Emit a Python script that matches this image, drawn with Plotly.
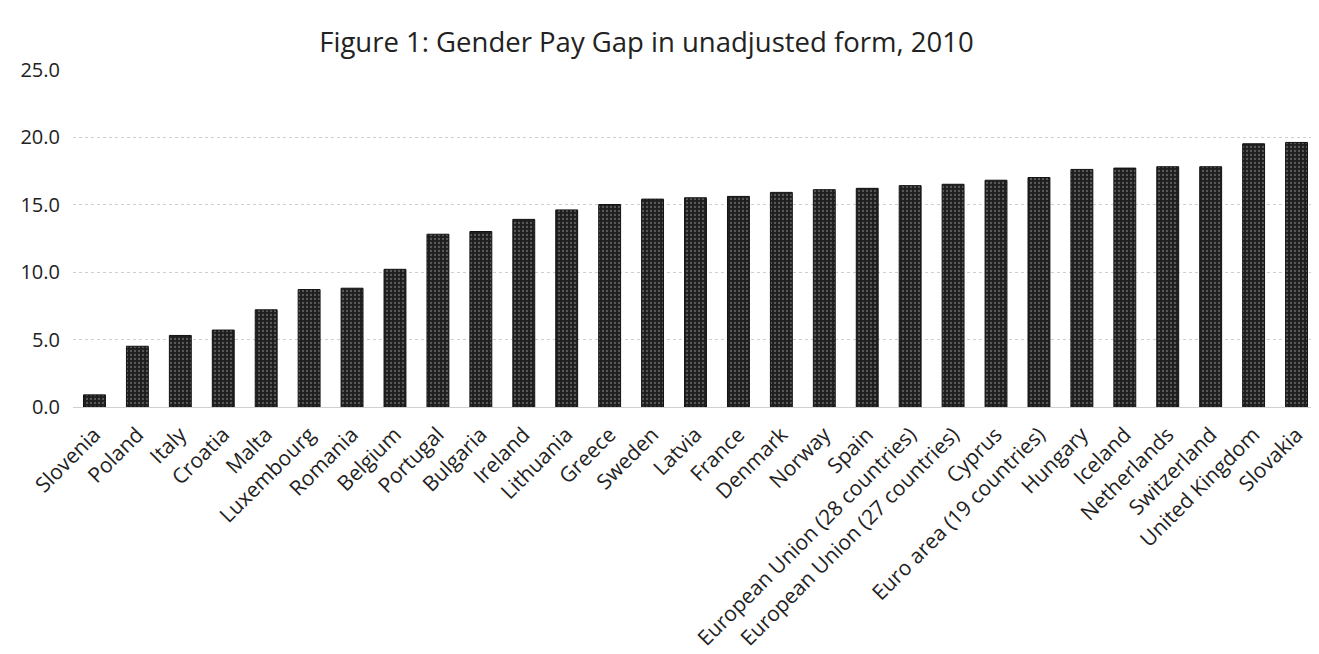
import plotly.graph_objects as go

countries = ["Slovenia", "Poland", "Italy", "Croatia", "Malta", "Luxembourg", "Romania",
             "Belgium", "Portugal", "Bulgaria", "Ireland", "Lithuania", "Greece", "Sweden",
             "Latvia", "France", "Denmark", "Norway", "Spain",
             "European Union (28 countries)", "European Union (27 countries)", "Cyprus",
             "Euro area (19 countries)", "Hungary", "Iceland", "Netherlands", "Switzerland",
             "United Kingdom", "Slovakia"]
gap_2010 = [0.9, 4.5, 5.3, 5.7, 7.2, 8.7, 8.8, 10.2, 12.8, 13.0, 13.9, 14.6, 15.0, 15.4,
            15.5, 15.6, 15.9, 16.1, 16.2, 16.4, 16.5, 16.8, 17.0, 17.6, 17.7, 17.8, 17.8,
            19.5, 19.6]
y_ticks = [0, 5, 10, 15, 20, 25]

fig = go.Figure(go.Bar(
    x=countries, y=gap_2010,
    marker=dict(color="#2b2b2b", line=dict(color="#111111", width=1),
                pattern=dict(shape=".", fgcolor="#9a9a9a", bgcolor="#1e1e1e", size=4, solidity=0.25)),
))

fig.update_layout(
    width=1311, height=646,
    paper_bgcolor="white", plot_bgcolor="white",
    margin=dict(l=65, r=1, t=61, b=247),
    bargap=0.49,
    showlegend=False,
    title=dict(text="Figure 1: Gender Pay Gap in unadjusted form, 2010",
               x=0.487, xanchor="center", y=0.947, yanchor="middle",
               font=dict(family="Open Sans, Lato, sans-serif", size=27.5, color="#222")),
    font=dict(family="Open Sans, Lato, sans-serif", color="#222"),
)
fig.update_yaxes(range=[0, 25.04], tickvals=y_ticks, ticktext=[f"{v:.1f}" for v in y_ticks],
                 showgrid=True, gridcolor="#cfcfcf", griddash="dot", gridwidth=1,
                 zeroline=False, showline=False, ticks="", ticklabelstandoff=12,
                 tickfont=dict(size=20, color="#222"), automargin=False)
fig.update_xaxes(tickangle=-45, showline=True, linecolor="#d0d0d0", linewidth=1,
                 ticks="", tickfont=dict(size=21, color="#222"), ticklabelstandoff=6,
                 automargin=False)

fig.write_html("out.html")
